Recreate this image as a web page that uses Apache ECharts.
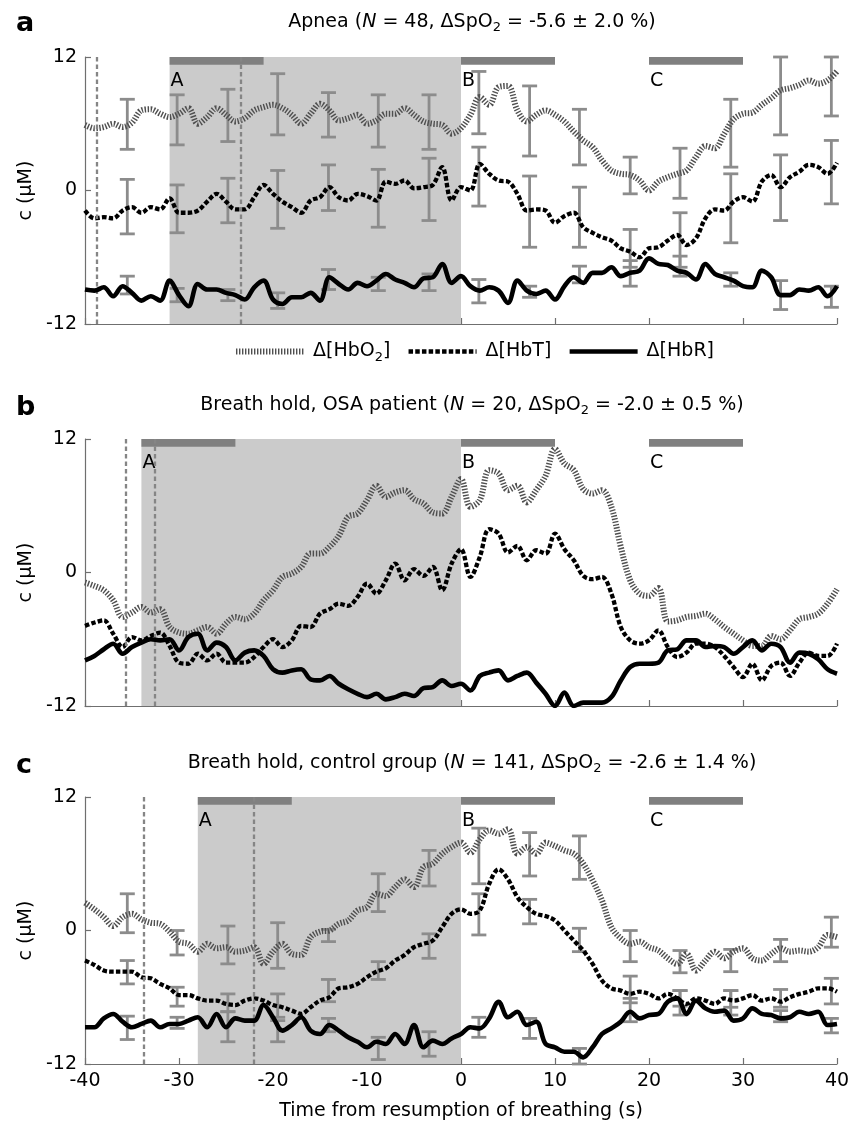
<!DOCTYPE html>
<html><head><meta charset="utf-8">
<script src="https://cdn.jsdelivr.net/npm/echarts@6/dist/echarts.min.js"></script>
<style>html,body{margin:0;padding:0;background:#fff}#c{width:860px;height:1125px}</style>
</head><body><div id="c"></div>
<script>
// time points (s)
const time = [-40,-39,-38,-37,-36,-35,-34,-33,-32,-31,-30,-29,-28,-27,-26,-25,-24,-23,-22,-21,-20,-19,-18,-17,-16,-15,-14,-13,-12,-11,-10,-9,-8,-7,-6,-5,-4,-3,-2,-1,0,1,2,3,4,5,6,7,8,9,10,11,12,13,14,15,16,17,18,19,20,21,22,23,24,25,26,27,28,29,30,31,32,33,34,35,36,37,38,39,40];
const xTicks = [-40,-30,-20,-10,0,10,20,30,40];
const yTicks = [-12,0,12];
// error bar time positions
const errT = [-35.5,-30.2,-24.8,-19.5,-14.1,-8.8,-3.4,1.9,7.3,12.6,18,23.3,28.7,34,39.4];

// Panel a: Apnea
const aHbO2 = [5.9,5.6,5.7,6.0,5.7,6.1,7.2,7.3,6.9,6.6, 6.9,7.4,6.0,6.6,7.4,6.8,6.2,6.5,7.2,7.5, 7.7,7.4,6.8,6.0,6.9,7.8,7.2,6.3,6.5,6.8, 6.0,6.3,6.9,6.9,7.4,6.8,6.2,6.0,5.9,5.1, 5.6,6.8,8.4,7.7,9.3,9.4,7.2,6.2,6.8,7.2, 6.8,6.2,5.3,4.5,3.9,2.7,1.8,1.5,1.4,0.9, 0.0,0.8,1.2,1.5,1.8,3.0,4.0,3.8,5.1,6.4, 6.9,7.0,7.7,8.3,9.0,9.2,9.5,9.9,9.6,9.9, 10.7];
const aHbT = [-1.8,-2.5,-2.4,-2.5,-1.8,-1.5,-2.0,-1.5,-1.7,-0.7, -2.0,-2.0,-1.8,-1.0,-0.3,-1.0,-1.7,-1.7,-0.6,0.5, -0.3,-1.0,-1.5,-2.0,-0.9,-0.6,0.3,-0.6,-0.9,-0.3, -0.5,-0.9,0.8,0.6,0.9,0.2,0.3,0.5,2.1,-0.9, 0.3,0.0,2.4,1.5,0.9,0.8,-0.3,-1.8,-1.7,-1.8, -2.9,-2.3,-2.0,-3.3,-3.8,-4.2,-4.5,-5.2,-5.5,-6.0, -5.2,-5.1,-4.5,-4.0,-4.9,-4.3,-2.5,-1.7,-1.8,-1.0, -0.6,-1.0,0.8,1.4,0.3,1.2,1.7,2.3,2.1,1.5, 2.5];
const aHbR = [-8.9,-9.0,-8.7,-9.5,-8.6,-9.2,-9.9,-9.5,-9.9,-8.1, -9.4,-10.4,-8.4,-8.9,-8.9,-9.2,-9.4,-9.8,-8.7,-8.1, -9.8,-10.2,-9.6,-9.6,-9.2,-9.9,-7.8,-8.4,-8.9,-8.3, -8.6,-8.1,-7.5,-8.0,-8.3,-8.7,-7.9,-7.8,-6.6,-8.3, -7.7,-8.6,-9.0,-8.7,-9.0,-10.1,-8.1,-9.0,-9.3,-9.0, -9.8,-8.6,-7.8,-8.3,-7.4,-7.4,-6.9,-7.7,-7.4,-7.2, -6.1,-6.6,-6.7,-7.2,-7.4,-8.0,-6.6,-7.5,-7.8,-8.1, -8.6,-8.7,-7.2,-7.8,-9.4,-9.4,-8.9,-9.0,-8.7,-9.5, -8.6];
const aHbO2Lo = [3.7,4.1,4.4,5.0,4.8,3.9,3.7,5.1,3.1,2.3,-0.3,-0.7,2.1,5.0,6.7];
const aHbO2Hi = [8.2,8.6,9.1,10.5,8.8,8.6,8.6,10.7,9.4,7.3,3.0,3.8,8.2,12.0,12.0];
const aHbTLo = [-3.9,-3.8,-2.9,-3.4,-1.8,-3.3,-2.7,-1.4,-5.1,-5.1,-6.9,-6.9,-4.7,-2.7,-1.2];
const aHbTHi = [1.0,0.5,1.1,1.8,2.3,1.9,2.9,3.9,1.3,0.3,-3.5,-2.0,1.5,3.2,4.5];
const aHbRLo = [-9.3,-10.0,-9.9,-10.6,-8.9,-9.0,-9.0,-10.1,-9.6,-8.3,-8.6,-7.7,-8.6,-10.7,-10.5];
const aHbRHi = [-7.7,-8.8,-8.9,-9.2,-7.1,-7.8,-7.5,-8.0,-8.6,-6.8,-6.3,-5.9,-7.4,-8.1,-8.6];

// Panel b: Breath hold, OSA patient
const bHbO2 = [-0.9,-1.2,-1.6,-2.5,-4.0,-3.6,-3.1,-3.6,-3.3,-4.9, -5.4,-5.5,-5.2,-4.9,-5.5,-4.6,-4.0,-4.2,-3.7,-2.5, -1.6,-0.4,-0.1,0.5,1.7,1.7,2.3,3.3,5.0,5.3, 6.5,7.8,6.8,7.2,7.4,6.6,6.2,5.4,5.3,6.8, 8.4,5.9,6.5,9.2,8.9,7.4,7.8,6.3,7.4,8.7, 11.1,9.8,9.2,7.5,7.1,7.4,5.9,2.3,-0.7,-1.9, -2.1,-1.4,-4.4,-4.3,-4.0,-3.9,-3.7,-4.2,-4.9,-5.5, -6.1,-6.6,-6.6,-5.7,-6.0,-5.2,-4.2,-4.0,-3.7,-2.8, -1.5];
const bHbT = [-4.8,-4.5,-4.3,-5.5,-6.7,-5.8,-6.1,-5.7,-5.4,-6.6, -8.1,-8.2,-7.3,-7.9,-7.3,-8.1,-8.1,-8.1,-7.6,-6.7, -6.0,-6.7,-6.1,-4.8,-4.9,-3.7,-3.3,-2.8,-3.0,-2.2, -1.0,-1.9,-0.7,0.8,-0.7,0.3,-0.3,0.5,-1.6,0.8, 2.1,-0.4,1.4,3.9,3.5,1.8,2.4,1.1,2.0,1.7, 3.5,2.1,1.1,-0.3,-0.6,-0.4,-1.9,-4.9,-6.1,-6.4, -6.1,-5.2,-6.7,-7.6,-7.2,-6.4,-6.4,-6.7,-7.5,-8.5, -9.4,-8.2,-9.7,-8.4,-8.1,-9.3,-8.1,-7.2,-7.5,-7.5, -6.4];
const bHbR = [-7.9,-7.5,-6.9,-6.4,-7.3,-6.7,-6.3,-6.0,-6.1,-6.0, -7.0,-5.8,-5.5,-7.0,-6.3,-6.7,-7.9,-7.2,-7.0,-7.5, -8.7,-9.0,-8.8,-8.7,-9.6,-9.7,-9.3,-10.0,-10.5,-10.9, -11.2,-10.9,-11.4,-11.2,-10.9,-11.1,-10.4,-10.3,-9.7,-10.2, -10.0,-10.6,-9.3,-9.0,-8.8,-9.7,-9.3,-9.0,-9.9,-10.9, -12.0,-10.8,-12.0,-11.7,-11.7,-11.7,-11.2,-9.7,-8.5,-8.2, -8.2,-8.1,-7.0,-6.9,-6.1,-6.1,-6.7,-6.6,-6.7,-7.3, -6.7,-6.1,-7.0,-6.4,-6.7,-8.1,-7.2,-7.3,-7.8,-8.7, -9.1];

// Panel c: Breath hold, control group
const cHbO2 = [2.5,1.9,1.2,0.4,1.2,1.5,1.0,0.7,0.6,-0.1, -1.0,-1.2,-1.9,-1.2,-1.6,-1.5,-1.9,-1.8,-1.5,-3.0, -1.9,-1.2,-2.1,-2.2,-0.6,-0.1,0.0,0.6,0.9,1.8, 2.1,3.3,3.1,3.9,4.6,3.9,5.7,6.0,6.9,7.5, 7.9,7.0,8.2,9.0,8.7,9.1,6.9,7.5,6.9,7.9, 7.6,7.2,6.9,6.0,4.5,2.7,0.3,-0.7,-1.2,-1.0, -1.5,-1.8,-2.5,-3.0,-2.1,-3.6,-2.7,-1.9,-2.5,-1.9, -1.6,-2.5,-2.7,-2.1,-1.6,-1.9,-1.8,-1.9,-1.5,-0.4, -0.6];
const cHbT = [-2.7,-3.1,-3.6,-3.7,-3.7,-3.7,-4.2,-4.3,-4.8,-5.2, -5.8,-5.8,-6.1,-6.3,-6.3,-6.6,-6.7,-6.3,-6.1,-6.3, -6.7,-6.9,-7.2,-7.5,-6.9,-6.3,-6.0,-5.2,-5.1,-4.8, -4.2,-3.7,-3.4,-2.7,-2.2,-1.5,-1.2,-0.9,0.3,1.5, 1.9,1.5,1.8,4.2,5.5,4.6,3.0,2.1,1.5,1.3, 0.9,0.0,-0.9,-1.8,-3.0,-4.5,-5.2,-5.4,-5.7,-5.5, -5.7,-6.1,-5.7,-6.1,-6.6,-6.1,-6.3,-6.6,-6.1,-6.3, -6.1,-5.8,-6.3,-6.1,-6.4,-6.0,-5.7,-5.5,-5.2,-5.2, -5.5];
const cHbR = [-8.7,-8.7,-7.9,-7.5,-8.2,-8.7,-8.4,-8.1,-8.7,-8.4, -8.4,-8.1,-7.8,-8.7,-7.5,-8.7,-7.9,-8.1,-8.1,-6.7, -7.8,-9.0,-8.5,-7.8,-9.0,-9.3,-8.5,-9.0,-9.6,-10.0, -10.5,-10.0,-10.2,-9.3,-10.2,-8.5,-10.5,-9.9,-10.2,-9.7, -9.3,-8.7,-8.8,-7.9,-6.4,-7.8,-7.3,-8.5,-8.2,-10.2, -10.5,-10.9,-10.9,-11.4,-10.5,-9.3,-8.8,-8.2,-7.3,-7.9, -7.6,-7.5,-6.4,-6.1,-7.5,-6.3,-7.0,-7.3,-7.2,-8.1, -7.9,-7.0,-7.5,-7.6,-7.9,-7.8,-7.3,-7.5,-7.3,-8.5, -8.4];
const cHbO2Lo = [-0.2,-2.2,-3.0,-3.4,-1.0,1.7,4.0,4.2,4.9,4.6,-2.8,-3.8,-3.7,-2.8,-1.5];
const cHbO2Hi = [3.3,0.0,0.4,0.7,0.1,5.1,7.2,9.2,8.8,8.5,0.0,-1.8,-1.7,-0.8,1.2];
const cHbTLo = [-4.8,-6.8,-7.3,-7.8,-6.4,-4.4,-2.5,-0.4,0.6,-1.9,-6.5,-6.8,-6.9,-6.9,-6.6];
const cHbTHi = [-2.7,-5.1,-5.7,-5.7,-4.4,-2.8,-0.3,3.3,2.8,0.2,-4.1,-5.4,-5.4,-5.3,-4.3];
const cHbRLo = [-9.8,-8.8,-10.0,-10.0,-9.1,-11.6,-11.3,-9.6,-9.7,-12.0,-8.2,-7.6,-7.6,-8.2,-9.2];
const cHbRHi = [-7.7,-7.8,-7.3,-8.1,-7.9,-9.6,-9.1,-7.8,-7.9,-10.6,-6.1,-5.4,-5.4,-7.2,-7.9];

// per-panel event markers
const shadeStart = [-31, -34, -28];
const dashedLines = [[-38.8, -23.4], [-35.7, -32.6], [-33.7, -22.1]];
const barA = [[-31, -21], [-34, -24], [-28, -18]];
const barB = [0, 10];
const barC = [20, 30];
const panelLetters = ['a', 'b', 'c'];
const titles = [
  ['Apnea (', '48', '-5.6 ± 2.0 %)'],
  ['Breath hold, OSA patient (', '20', '-2.0 ± 0.5 %)'],
  ['Breath hold, control group (', '141', '-2.6 ± 1.4 %)']
];

const FONT = 'DejaVu Sans';
const FS = 19;
const grids = [57, 439, 797];
const H = 267;

const panels = [
  {o: aHbO2, t: aHbT, r: aHbR, err: [[aHbO2Lo, aHbO2Hi], [aHbTLo, aHbTHi], [aHbRLo, aHbRHi]]},
  {o: bHbO2, t: bHbT, r: bHbR, err: null},
  {o: cHbO2, t: cHbT, r: cHbR, err: [[cHbO2Lo, cHbO2Hi], [cHbTLo, cHbTHi], [cHbRLo, cHbRHi]]}
];

function zip(vals) { return time.map((t, i) => [t, vals[i]]); }
function zipErr(lo, hi) { return errT.map((t, i) => [t, lo[i], hi[i]]); }

function errRender(params, api) {
  const x = api.value(0), lo = api.value(1), hi = api.value(2);
  const p1 = api.coord([x, hi]), p2 = api.coord([x, lo]);
  const w = 7.5;
  const st = {stroke: '#8c8c8c', lineWidth: 2.8, fill: null};
  return {type: 'group', children: [
    {type: 'line', shape: {x1: p1[0], y1: p1[1], x2: p2[0], y2: p2[1]}, style: st},
    {type: 'line', shape: {x1: p1[0] - w, y1: p1[1], x2: p1[0] + w, y2: p1[1]}, style: st},
    {type: 'line', shape: {x1: p2[0] - w, y1: p2[1], x2: p2[0] + w, y2: p2[1]}, style: st}
  ]};
}

const styleO = {color: '#4f4f4f', width: 6, type: [1.4, 1.6]};
const styleT = {color: '#000', width: 4.3, type: [4.5, 2.2]};
const styleR = {color: '#000', width: 4.6, type: 'solid'};

const gridArr = [], xAxes = [], yAxes = [], series = [];
panels.forEach((p, i) => {
  gridArr.push({left: 85, width: 752, top: grids[i], height: H});
  xAxes.push({
    type: 'value', gridIndex: i, min: xTicks[0], max: xTicks[xTicks.length - 1], interval: 10,
    axisLine: {show: true, onZero: false, lineStyle: {color: '#6f6f6f', width: 1.2}},
    axisTick: {show: true, inside: true, length: 6, lineStyle: {color: '#6f6f6f', width: 1.2}},
    axisLabel: {show: i === 2, color: '#000', fontSize: FS, fontFamily: FONT, margin: 8},
    splitLine: {show: false},
    name: i === 2 ? 'Time from resumption of breathing (s)' : '',
    nameLocation: 'middle', nameGap: 38,
    nameTextStyle: {color: '#000', fontSize: FS, fontFamily: FONT}
  });
  yAxes.push({
    type: 'value', gridIndex: i, min: yTicks[0], max: yTicks[2], interval: 12,
    axisLine: {show: true, onZero: false, lineStyle: {color: '#6f6f6f', width: 1.2}},
    axisTick: {show: true, inside: true, length: 6, lineStyle: {color: '#6f6f6f', width: 1.2}},
    axisLabel: {color: '#000', fontSize: FS, fontFamily: FONT, margin: 8},
    splitLine: {show: false},
    name: 'c (μM)', nameLocation: 'middle', nameGap: 47, nameRotate: 90,
    nameTextStyle: {color: '#000', fontSize: FS, fontFamily: FONT}
  });
  // shading + dashed lines
  series.push({
    type: 'line', xAxisIndex: i, yAxisIndex: i, data: [], z: 0, silent: true,
    markArea: {silent: true, itemStyle: {color: '#cbcbcb'}, data: [[{xAxis: shadeStart[i]}, {xAxis: 0}]]},
    markLine: {silent: true, symbol: ['none', 'none'], label: {show: false},
      lineStyle: {color: '#858585', width: 2.3, type: [4.5, 3]},
      data: dashedLines[i].map(v => ({xAxis: v}))}
  });
  // top bars A, B, C
  series.push({
    type: 'line', xAxisIndex: i, yAxisIndex: i, data: [], z: 1, silent: true,
    markArea: {silent: true, itemStyle: {color: '#808080'},
      label: {show: true, position: [1, 15], color: '#000', fontSize: FS, fontFamily: FONT},
      data: [
        [{name: 'A', xAxis: barA[i][0], yAxis: 11.3}, {xAxis: barA[i][1], yAxis: 12}],
        [{name: 'B', xAxis: barB[0], yAxis: 11.3}, {xAxis: barB[1], yAxis: 12}],
        [{name: 'C', xAxis: barC[0], yAxis: 11.3}, {xAxis: barC[1], yAxis: 12}]
      ]}
  });
  if (p.err) {
    p.err.forEach(e => series.push({
      type: 'custom', xAxisIndex: i, yAxisIndex: i, z: 2, silent: true,
      renderItem: errRender, encode: {x: 0, y: [1, 2]}, data: zipErr(e[0], e[1])
    }));
  }
  series.push({name: 'HbO2', type: 'line', xAxisIndex: i, yAxisIndex: i, z: 3, showSymbol: false, symbol: 'none', smooth: 0.35, lineStyle: styleO, itemStyle: {color: styleO.color}, data: zip(p.o)});
  series.push({name: 'HbT', type: 'line', xAxisIndex: i, yAxisIndex: i, z: 4, showSymbol: false, symbol: 'none', smooth: 0.35, lineStyle: styleT, itemStyle: {color: styleT.color}, data: zip(p.t)});
  series.push({name: 'HbR', type: 'line', xAxisIndex: i, yAxisIndex: i, z: 5, showSymbol: false, symbol: 'none', smooth: 0.35, lineStyle: styleR, itemStyle: {color: styleR.color}, data: zip(p.r)});
});

const richBase = {
  t: {fontSize: FS, fontFamily: FONT, color: '#000'},
  i: {fontSize: FS, fontFamily: FONT, fontStyle: 'italic', color: '#000'},
  s: {fontSize: 13, fontFamily: FONT, color: '#000', padding: [12, 0, 0, 0]}
};
const titleY = [22, 405, 763];
const letterY = [24, 408, 766];
const graphics = [];
titles.forEach((tt, i) => {
  graphics.push({type: 'text', x: 472, y: titleY[i], style: {
    text: '{t|' + tt[0] + '}{i|N}{t| = ' + tt[1] + ', ΔSpO}{s|2}{t| = ' + tt[2] + '}',
    rich: richBase, align: 'center', verticalAlign: 'middle', fontSize: FS, fontFamily: FONT, fill: '#000'}});
  graphics.push({type: 'text', x: 16, y: letterY[i], style: {
    text: panelLetters[i], fontSize: 27, fontWeight: 'bold', fontFamily: FONT, fill: '#000',
    align: 'left', verticalAlign: 'middle'}});
});

const legendNames = {HbO2: 'Δ[HbO{s|2}]', HbT: 'Δ[HbT]', HbR: 'Δ[HbR]'};
const option = {
  animation: false,
  backgroundColor: '#fff',
  grid: gridArr, xAxis: xAxes, yAxis: yAxes, series: series,
  graphic: graphics,
  legend: {
    data: ['HbO2', 'HbT', 'HbR'], left: 228, top: 337, itemWidth: 68, itemHeight: 14, itemGap: 16,
    selectedMode: false,
    itemStyle: {opacity: 0, borderWidth: 0},
    lineStyle: {width: 'inherit', type: 'inherit', color: 'inherit'},
    formatter: n => legendNames[n],
    textStyle: {color: '#000', fontSize: FS, fontFamily: FONT, padding: [0, 0, 0, 4],
      rich: {s: {fontSize: 13, fontFamily: FONT, color: '#000', padding: [12, 0, 0, 0]}}}
  }
};
const chart = echarts.init(document.getElementById('c'), null, {renderer: 'canvas'});
chart.setOption(option);
</script></body></html>
